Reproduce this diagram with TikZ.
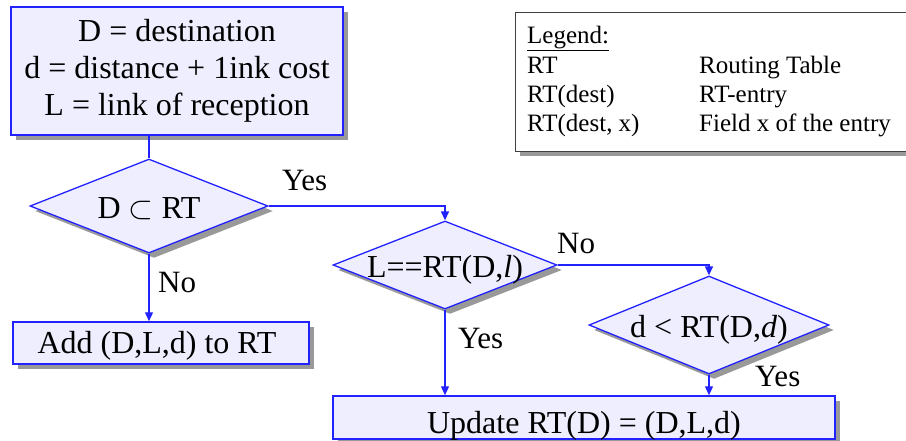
\RequirePackage{fix-cm}
\documentclass[tikz,border=0pt]{standalone}
\usepackage{fontspec}
\setmainfont{Liberation Serif}
\usetikzlibrary{shapes.geometric,arrows.meta,shadows}
\definecolor{boxfill}{HTML}{EEEEFF}
\definecolor{boxline}{HTML}{2222FF}
\definecolor{shadowgray}{HTML}{999999}
\tikzset{
  sh/.style={drop shadow={shadow xshift=5pt,shadow yshift=-5pt,fill=shadowgray,opacity=1}},
  procbox/.style={draw=boxline,fill=boxfill,line width=1.5pt,rectangle,inner sep=0pt,sh},
  decision/.style={draw=boxline,fill=boxfill,line width=1.3pt,diamond,inner sep=0pt,sh},
  txt/.style={anchor=base,inner sep=0pt,font=\fontsize{32}{37}\selectfont},
  lbl/.style={anchor=base west,inner sep=0pt,font=\fontsize{31}{37}\selectfont},
  conn/.style={draw=boxline,line width=1.3pt},
  arr/.style={conn,-{Triangle[length=9pt,width=8pt]}},
  legbox/.style={draw=black!75,fill=white,line width=1pt,rectangle,inner sep=0pt,sh},
  legtxt/.style={anchor=base west,inner sep=0pt,font=\fontsize{25}{30}\selectfont},
}
\begin{document}
\begin{tikzpicture}[x=1pt,y=-1pt]
\useasboundingbox (0,0) rectangle (906,440);
\clip (0,0) rectangle (906,440);
% top box
\node[procbox,minimum width=332pt,minimum height=128pt,align=center,
      font=\fontsize{32}{37}\selectfont] (top) at (177,71)
  {D = destination\\d = distance + 1ink cost\\L = link of reception};
% legend
\node[legbox,minimum width=415pt,minimum height=139pt] (leg) at (722.5,81.5) {};
\node[legtxt] (l0) at (527,43) {\underline{Legend:}};
\node[legtxt] (l1a) at (527,73) {RT};
\node[legtxt] (l1b) at (699,73) {Routing Table};
\node[legtxt] (l2a) at (527,102) {RT(dest)};
\node[legtxt] (l2b) at (699,102) {RT-entry};
\node[legtxt] (l3a) at (527,131) {RT(dest, x)};
\node[legtxt] (l3b) at (699,131) {Field x of the entry};
% decisions
\node[decision,minimum width=238pt,minimum height=94pt] (d1) at (149,206) {};
\node[txt] (t1) at (149,218) {D $\subset$ RT};
\node[decision,minimum width=224pt,minimum height=88pt] (d2) at (445,265) {};
\node[txt] (t2) at (445,277) {L==RT(D,\textit{l})};
\node[decision,minimum width=240pt,minimum height=98pt] (d3) at (709,325) {};
\node[txt] (t3) at (709,337) {d {<} RT(D,\textit{d})};
% process boxes
\node[procbox,minimum width=296pt,minimum height=42pt] (add) at (161,343) {};
\node[txt] (ta) at (157,353) {Add (D,L,d) to RT};
\node[procbox,minimum width=502pt,minimum height=43pt] (upd) at (584,417.5) {};
\node[txt] (tu) at (584,433) {Update RT(D) = (D,L,d)};
% connectors
\draw[conn] (d1.north |- top.south) -- (d1.north);
\draw[arr] (d1.east) -| (d2.north);
\draw[arr] (d1.south) -- (d1.south |- add.north);
\draw[arr] (d2.east) -| (d3.north);
\draw[arr] (d2.south) -- (d2.south |- upd.north);
\draw[arr] (d3.south) -- (d3.south |- upd.north);
% labels
\node[lbl] (y1) at (282,190) {Yes};
\node[lbl] (n1) at (158,292) {No};
\node[lbl] (n2) at (557,253) {No};
\node[lbl] (y2) at (458,348) {Yes};
\node[lbl] (y3) at (755,386) {Yes};
\end{tikzpicture}
\end{document}
